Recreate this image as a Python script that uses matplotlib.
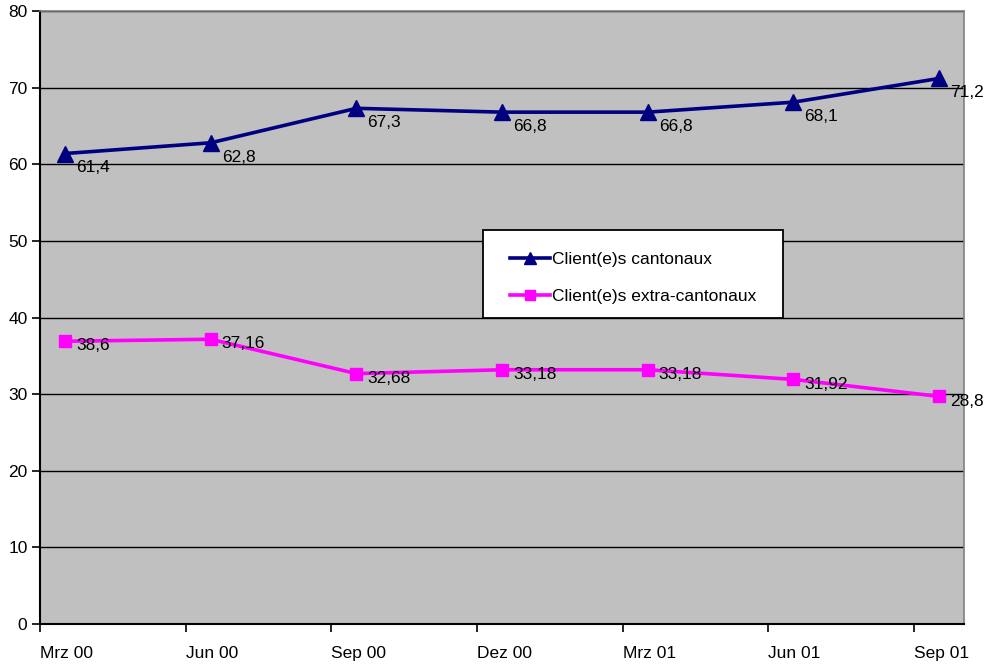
import numpy as np
import matplotlib.pyplot as plt
from matplotlib.patches import Rectangle

plt.rcParams['font.family'] = ['Liberation Sans', 'DejaVu Sans']

# data
months = ['Mrz 00', 'Jun 00', 'Sep 00', 'Dez 00', 'Mrz 01', 'Jun 01', 'Sep 01']
cantonaux = [61.4, 62.8, 67.3, 66.8, 66.8, 68.1, 71.2]
extra = [36.9, 37.16, 32.68, 33.18, 33.18, 31.92, 29.7]
cantonaux_labels = ['61,4', '62,8', '67,3', '66,8', '66,8', '68,1', '71,2']
extra_labels = ['38,6', '37,16', '32,68', '33,18', '33,18', '31,92', '28,8']

fs = 12.5
fig = plt.figure(figsize=(9.89, 6.67), dpi=100)
ax = fig.add_axes([40 / 989, 1 - 624 / 667, 924 / 989, 613 / 667])
ax.set_facecolor('#c0c0c0')

x = np.arange(len(months))
ax.plot(x, cantonaux, color='#000080', lw=2.6, marker='^', markersize=11,
        label='Client(e)s cantonaux', zorder=3)
ax.plot(x, extra, color='#ff00ff', lw=2.6, marker='s', markersize=9,
        label='Client(e)s extra-cantonaux', zorder=3)

for xi, yi, t in zip(x, cantonaux, cantonaux_labels):
    ax.annotate(t, (xi, yi), xytext=(8, -5), textcoords='offset points',
                ha='left', va='top', fontsize=fs, annotation_clip=False)
for xi, yi, t in zip(x, extra, extra_labels):
    ax.annotate(t, (xi, yi), xytext=(8, 2), textcoords='offset points',
                ha='left', va='top', fontsize=fs, annotation_clip=False)

ax.set_ylim(0, 80)
ax.set_yticks(range(0, 81, 10))
ax.set_xlim(-0.172, 6.171)
ax.set_xticks(x - 0.172)
ax.set_xticklabels(months, ha='left')

ax.yaxis.grid(True, color='black', lw=1)
ax.set_axisbelow(True)
ax.tick_params(axis='both', direction='out', length=6, width=1.2, labelsize=fs)
ax.tick_params(axis='x', pad=10)
ax.tick_params(axis='y', pad=3)

for s in ['left', 'bottom']:
    ax.spines[s].set_color('black')
    ax.spines[s].set_linewidth(1.5)
for s in ['top', 'right']:
    ax.spines[s].set_color('#808080')
    ax.spines[s].set_linewidth(1.2)

# legend box drawn separately so the padding matches
box = Rectangle((483 / 989, 1 - 318 / 667), 300 / 989, 88 / 667,
                transform=fig.transFigure, facecolor='white',
                edgecolor='black', lw=1.3, zorder=5, clip_on=False)
ax.add_patch(box)
leg = ax.legend(loc='center left', bbox_to_anchor=(510 / 989, 1 - 278 / 667),
                bbox_transform=fig.transFigure, fontsize=fs, frameon=False,
                borderpad=0, labelspacing=1.3, handlelength=2.3,
                handletextpad=0.1, borderaxespad=0, markerscale=0.8)
leg.set_zorder(6)

fig.savefig('out.png', dpi=100)
